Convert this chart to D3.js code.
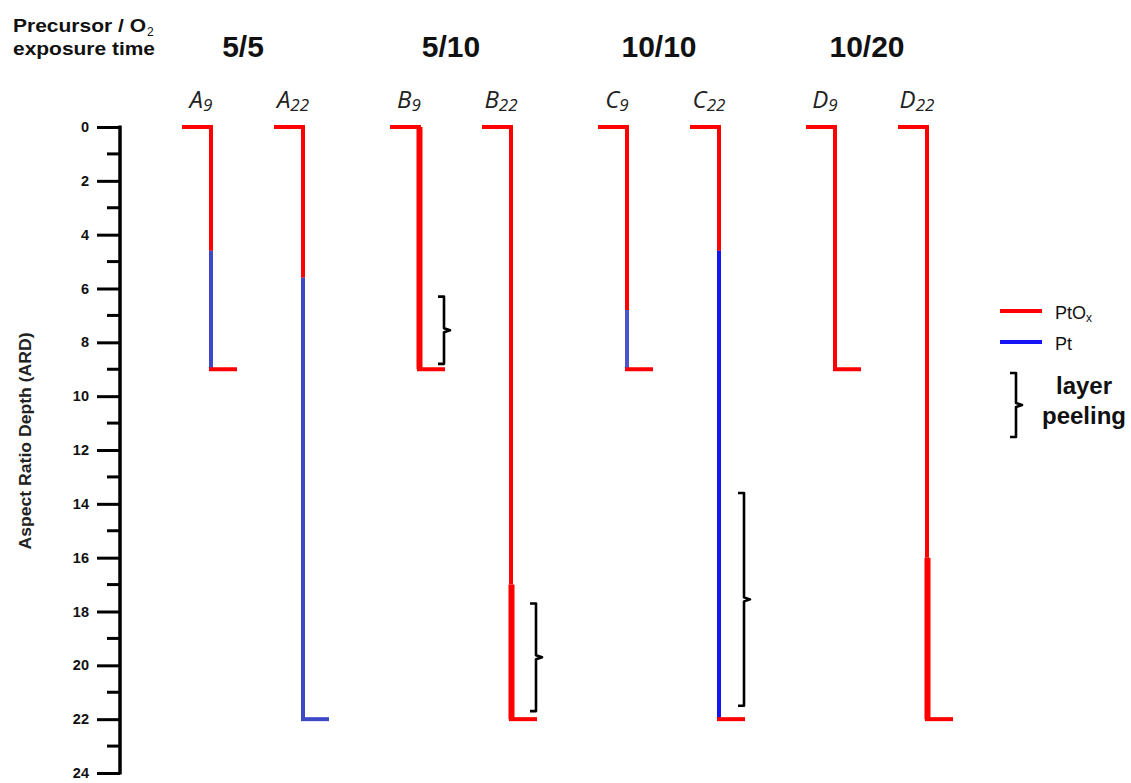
<!DOCTYPE html>
<html>
<head>
<meta charset="utf-8">
<script src="https://cdn.jsdelivr.net/npm/d3@7"></script>
<style>
  html, body { margin: 0; padding: 0; background: #fff; }
  svg { display: block; }
</style>
</head>
<body>
<svg id="chart" width="1131" height="783"></svg>
<script>
// Exposure groups (precursor / O2 time) and the two trench samples in each
const groups = ["5/5", "5/10", "10/10", "10/20"];
const samples = ["A9", "A22", "B9", "B22", "C9", "C22", "D9", "D22"];
const sampleGroup = ["5/5", "5/5", "5/10", "5/10", "10/10", "10/10", "10/20", "10/20"];
const sampleLetter = ["A", "A", "B", "B", "C", "C", "D", "D"];
const sampleSub = ["9", "22", "9", "22", "9", "22", "9", "22"];
// Trench depth (ARD) and depth where PtOx gives way to Pt
const trenchDepth = [9, 22, 9, 22, 9, 22, 9, 22];
const ptoxUntil = [4.6, 5.6, 9, 22, 6.8, 4.6, 9, 22];
// Layer-peeling ranges (ARD)
const peelSample = ["B9", "B22", "C22"];
const peelFrom = [6.3, 17.7, 13.6];
const peelTo = [8.8, 21.7, 21.5];
// Axis ticks
const majorTicks = [0, 2, 4, 6, 8, 10, 12, 14, 16, 18, 20, 22, 24];
const minorTicks = [1, 3, 5, 7, 9, 11, 13, 15, 17, 19, 21, 23];

// Drawing style
const RED = "#ff0000";
const BLUE_SOFT = "#3d49c6";
const BLUE = "#1414f5";
const ptColor = { A9: BLUE_SOFT, A22: BLUE_SOFT, C9: "#4a55cc", C22: BLUE };
const thickFrom = { B9: 0, B22: 17, D22: 16 }; // thicker film from this depth down
const SANS = "'Liberation Sans', Arial, sans-serif";

const svg = d3.select("#chart");

const y = d3.scaleLinear().domain([0, 24]).range([127, 773]);
const gx = d3.scalePoint().domain(groups).range([257, 881]);
const inner = d3.scalePoint().domain([0, 1]).range([-46, 46]);
const xOf = i => gx(sampleGroup[i]) + inner(i % 2);

// ----- depth axis -----
const axisX = 120;
const axis = svg.append("g").attr("transform", `translate(${axisX},0)`);
axis.call(d3.axisLeft(y).tickValues(majorTicks).tickSize(23).tickPadding(8).tickFormat(d3.format("d")));
axis.select(".domain").remove();
axis.selectAll(".tick line").attr("stroke", "#000").attr("stroke-width", 3);
axis.selectAll(".tick text")
  .attr("font-family", SANS)
  .attr("font-weight", "bold").attr("font-size", 14.5).attr("fill", "#111");
axis.append("g").selectAll("line").data(minorTicks).join("line")
  .attr("x1", -13).attr("x2", 0).attr("y1", d => y(d)).attr("y2", d => y(d))
  .attr("stroke", "#000").attr("stroke-width", 3);
axis.append("line").attr("x1", 0).attr("x2", 0)
  .attr("y1", y(0) - 1.5).attr("y2", y(24) + 1.5)
  .attr("stroke", "#000").attr("stroke-width", 3.5);

svg.append("text")
  .attr("transform", `translate(31,441) rotate(-90)`)
  .attr("text-anchor", "middle")
  .attr("font-family", SANS)
  .attr("font-weight", "bold").attr("font-size", 17).attr("fill", "#222")
  .attr("textLength", 217).attr("lengthAdjust", "spacingAndGlyphs")
  .text("Aspect Ratio Depth (ARD)");

// ----- header -----
const head = svg.append("g")
  .attr("font-family", SANS)
  .attr("font-weight", "bold").attr("font-size", 19).attr("fill", "#111");
head.append("text").attr("x", 13).attr("y", 32)
  .attr("textLength", 133).attr("lengthAdjust", "spacingAndGlyphs").text("Precursor / O");
head.append("text").attr("x", 147).attr("y", 36)
  .attr("font-size", 12).attr("font-weight", "normal").text("2");
head.append("text").attr("x", 13).attr("y", 55)
  .attr("textLength", 142).attr("lengthAdjust", "spacingAndGlyphs").text("exposure time");

svg.append("g").selectAll("text").data(groups).join("text")
  .attr("x", d => gx(d) - 14).attr("y", 57)
  .attr("text-anchor", "middle")
  .attr("font-family", SANS)
  .attr("font-weight", "bold").attr("font-size", 30).attr("fill", "#111")
  .text(d => d);

// sample labels
const lbl = svg.append("g").selectAll("text").data(samples).join("text")
  .attr("x", (d, i) => xOf(i) - 10).attr("y", 108)
  .attr("text-anchor", "middle")
  .attr("font-family", "'Open Sans', 'Noto Sans', sans-serif")
  .attr("font-style", "italic").attr("font-size", 24).attr("fill", "#222");
lbl.append("tspan").text((d, i) => sampleLetter[i]);
lbl.append("tspan").attr("font-size", 17).attr("dy", 3).text((d, i) => sampleSub[i]);

// ----- trench profiles -----
const prof = svg.append("g").attr("fill", "none").attr("stroke-linecap", "butt");
samples.forEach((s, i) => {
  const x = xOf(i);
  const d = trenchDepth[i];
  const p = ptoxUntil[i];
  const t = thickFrom[s];
  const w = 4;
  // top lip
  prof.append("line").attr("x1", x - 29).attr("x2", x + w / 2)
    .attr("y1", y(0)).attr("y2", y(0)).attr("stroke", RED).attr("stroke-width", w);
  // PtOx wall
  if (t === undefined) {
    prof.append("line").attr("x1", x).attr("x2", x)
      .attr("y1", y(0)).attr("y2", y(p)).attr("stroke", RED).attr("stroke-width", w);
  } else {
    prof.append("line").attr("x1", x).attr("x2", x)
      .attr("y1", y(0)).attr("y2", y(t)).attr("stroke", RED).attr("stroke-width", w);
    prof.append("line").attr("x1", x + 0.5).attr("x2", x + 0.5)
      .attr("y1", y(t)).attr("y2", y(p)).attr("stroke", RED).attr("stroke-width", 6);
  }
  // Pt wall
  if (p < d) {
    prof.append("line").attr("x1", x).attr("x2", x)
      .attr("y1", y(p)).attr("y2", y(d)).attr("stroke", ptColor[s]).attr("stroke-width", w);
  }
  // bottom lip
  const bottomColor = (s === "A22") ? ptColor[s] : RED;
  prof.append("line").attr("x1", x - w / 2).attr("x2", x + 26)
    .attr("y1", y(d)).attr("y2", y(d)).attr("stroke", bottomColor).attr("stroke-width", w);
});

// ----- peeling braces -----
function brace(g, x, y1, y2) {
  const ym = (y1 + y2) / 2;
  const path = `M${x - 6},${y1} L${x},${y1} L${x},${ym - 2} L${x + 6},${ym} L${x},${ym + 2} L${x},${y2} L${x - 6},${y2}`;
  g.append("path").attr("d", path).attr("fill", "none")
    .attr("stroke", "#000").attr("stroke-width", 2.6).attr("stroke-linejoin", "round");
}
const braces = svg.append("g");
peelSample.forEach((s, k) => {
  const i = samples.indexOf(s);
  brace(braces, xOf(i) + 25, y(peelFrom[k]), y(peelTo[k]));
});

// ----- legend -----
const leg = svg.append("g").attr("font-family", SANS).attr("fill", "#111");
leg.append("line").attr("x1", 1000).attr("x2", 1042).attr("y1", 311).attr("y2", 311)
  .attr("stroke", RED).attr("stroke-width", 4);
leg.append("line").attr("x1", 1000).attr("x2", 1042).attr("y1", 342).attr("y2", 342)
  .attr("stroke", BLUE).attr("stroke-width", 4);
const t1 = leg.append("text").attr("x", 1055).attr("y", 319).attr("font-size", 18);
t1.append("tspan").text("PtO");
t1.append("tspan").attr("font-size", 12).attr("dy", 3).text("x");
leg.append("text").attr("x", 1055).attr("y", 350).attr("font-size", 18).text("Pt");
brace(leg, 1016, 373, 437);
leg.append("text").attr("x", 1084).attr("y", 394).attr("text-anchor", "middle")
  .attr("font-weight", "bold").attr("font-size", 24).text("layer");
leg.append("text").attr("x", 1084).attr("y", 424).attr("text-anchor", "middle")
  .attr("font-weight", "bold").attr("font-size", 24).text("peeling");
</script>
</body>
</html>
